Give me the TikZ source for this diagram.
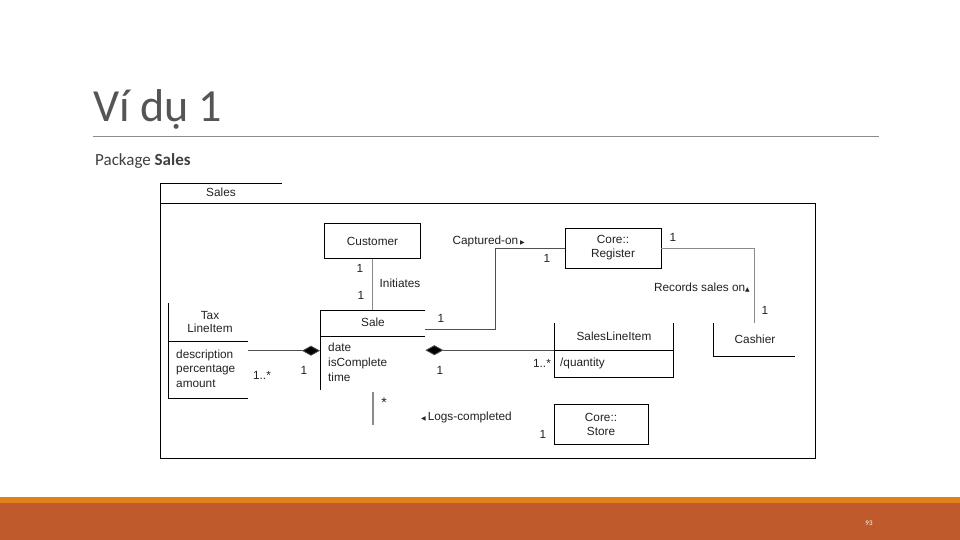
\documentclass[tikz,border=0pt]{standalone}
\usepackage{fontspec}
\setmainfont{Liberation Sans}
\newfontfamily\slidefont{Carlito}
\newfontfamily\symfont{DejaVu Sans}
\usetikzlibrary{arrows.meta,calc}
\definecolor{titlegray}{HTML}{555555}
\definecolor{subgray}{HTML}{404040}
\definecolor{rulegray}{HTML}{8C8C8C}
\definecolor{barorange}{HTML}{E0811C}
\definecolor{barrust}{HTML}{BE5A2B}
\definecolor{linegray}{HTML}{505050}
\definecolor{vgray}{HTML}{8A8A8A}
\definecolor{txtgray}{HTML}{222222}
\begin{document}
\begin{tikzpicture}[x=1pt,y=-1pt,
  lbl/.style={inner sep=0pt, text=txtgray, font=\fontsize{11.8}{13}\selectfont},
  boxc/.style={draw=black, line width=0.8pt, inner sep=0pt, align=center, text=txtgray, font=\fontsize{11.8}{14}\selectfont},
  ghost/.style={inner sep=0pt, draw=none},
  border/.style={draw=black, line width=0.8pt},
  hconn/.style={draw=linegray, line width=0.8pt},
  vconn/.style={draw=vgray, line width=1.2pt},
  comp/.style={hconn, -{Diamond[length=18pt,width=10pt,fill=black]}}
]
\useasboundingbox (0,0) rectangle (960,540);
\fill[white] (0,0) rectangle (960,540);

% slide title
\node[anchor=base west, inner sep=0pt, text=titlegray, font=\slidefont\fontsize{46}{50}\selectfont] (title) at (93,122) {Ví dụ 1};
\draw[rulegray, line width=0.8pt] (93,136) -- (879,136);
\node[anchor=base west, inner sep=0pt, text=subgray, font=\slidefont\fontsize{17}{20}\selectfont] (sub) at (95,166) {Package \textbf{Sales}};

% footer
\fill[barorange] (0,497) rectangle (960,503);
\fill[barrust] (0,503) rectangle (960,540);
\node[text=white, inner sep=0pt, font=\slidefont\fontsize{7}{8}\selectfont] (pg) at (869,523) {93};

% package frame
\draw[border] (160,183) -- (282,183);
\draw[border] (160,183) -- (160,458) -- (815,458) -- (815,203) -- (160,203);
\node[lbl] (pkname) at (221,192) {Sales};

% classes
\node[boxc, minimum width=96pt, minimum height=35pt] (cust) at (372.5,241) {Customer};
\node[boxc, minimum width=96pt, minimum height=40pt] (reg) at (613,248) {Core::\\Register};
\node[boxc, minimum width=94pt, minimum height=40pt] (store) at (601,424) {Core::\\Store};

% Sale (partially drawn)
\node[ghost, minimum width=105pt, minimum height=80pt, anchor=north west] (sale) at (320,310) {};
\draw[border] (sale.north east) -- (sale.north west) -- (sale.south west);
\draw[border] (320,336) -- (425,336);
\node[lbl] (salename) at (373,322) {Sale};
\node[lbl, anchor=north west, align=left, font=\fontsize{11.8}{15}\selectfont] (saleattr) at (328,343) {date\\isComplete\\time};

% Tax LineItem
\node[ghost, minimum width=80pt, minimum height=95pt, anchor=north west] (tax) at (168,303) {};
\draw[border] (tax.north west) -- (tax.south west) -- (tax.south east);
\draw[border] (168,341) -- (248,341);
\node[lbl, align=center, font=\fontsize{11.8}{13.5}\selectfont] (taxname) at (210,322) {Tax\\LineItem};
\node[lbl, anchor=north west, align=left, font=\fontsize{11.8}{14.5}\selectfont] (taxattr) at (176,349.5) {description\\percentage\\amount};

% SalesLineItem
\node[ghost, minimum width=119pt, minimum height=54pt, anchor=north west] (sli) at (554,323) {};
\draw[border] (sli.north west) -- (sli.south west) -- (sli.south east) -- (sli.north east);
\draw[border] (554,350) -- (673,350);
\node[lbl] (sliname) at (614,336) {SalesLineItem};
\node[lbl, anchor=west] (sliattr) at (560,363.5) {/quantity};

% Cashier
\node[ghost, minimum width=82pt, minimum height=33pt, anchor=north west] (cash) at (713,323) {};
\draw[border] (cash.north west) -- (cash.south west) -- (cash.south east);
\node[lbl] (cashname) at (755,339.5) {Cashier};

% connectors
\draw[vconn] (cust.south) -- (cust.south |- sale.north);
\coordinate (capbend) at (495,248);
\draw[hconn] ([yshift=-19pt]sale.north east) -| (capbend) -- (reg.west);
\draw[draw=vgray, line width=1pt] (reg.east) -| (cash.north -| 754,0);
\draw[comp] (tax.east) -- (tax.east -| sale.west);
\draw[comp] (sli.west) -- (sli.west -| sale.east);
\coordinate (logtop) at (373,392);
\coordinate (logend) at (373,425);
\draw[vconn] (logtop) -- (logend);

% association labels
\node[lbl] (m1) at (360,268) {1};
\node[lbl] (initiates) at (400,283) {Initiates};
\node[lbl] (m2) at (361,295) {1};
\node[lbl, anchor=east] (captured) at (525,241) {Captured-on\,{\symfont\fontsize{6}{6}\selectfont ▶}};
\node[lbl] (m3) at (547,258) {1};
\node[lbl] (m4) at (673,237) {1};
\node[lbl, anchor=east] (records) at (750,288) {Records sales on{\symfont\fontsize{6}{6}\selectfont ▲}};
\node[lbl] (m5) at (765,310) {1};
\node[lbl] (m6) at (441,318) {1};
\node[lbl] (m7) at (440,370) {1};
\node[lbl] (m8) at (542,363) {1..*};
\node[lbl] (m9) at (262,375) {1..*};
\node[lbl] (m10) at (304,370) {1};
\node[lbl, font=\fontsize{14}{14}\selectfont] (m11) at (384,403) {*};
\node[lbl, anchor=west] (logs) at (421,417) {{\symfont\fontsize{6}{6}\selectfont ◀}\,Logs-completed};
\node[lbl] (m12) at (543,434) {1};
\end{tikzpicture}
\end{document}
